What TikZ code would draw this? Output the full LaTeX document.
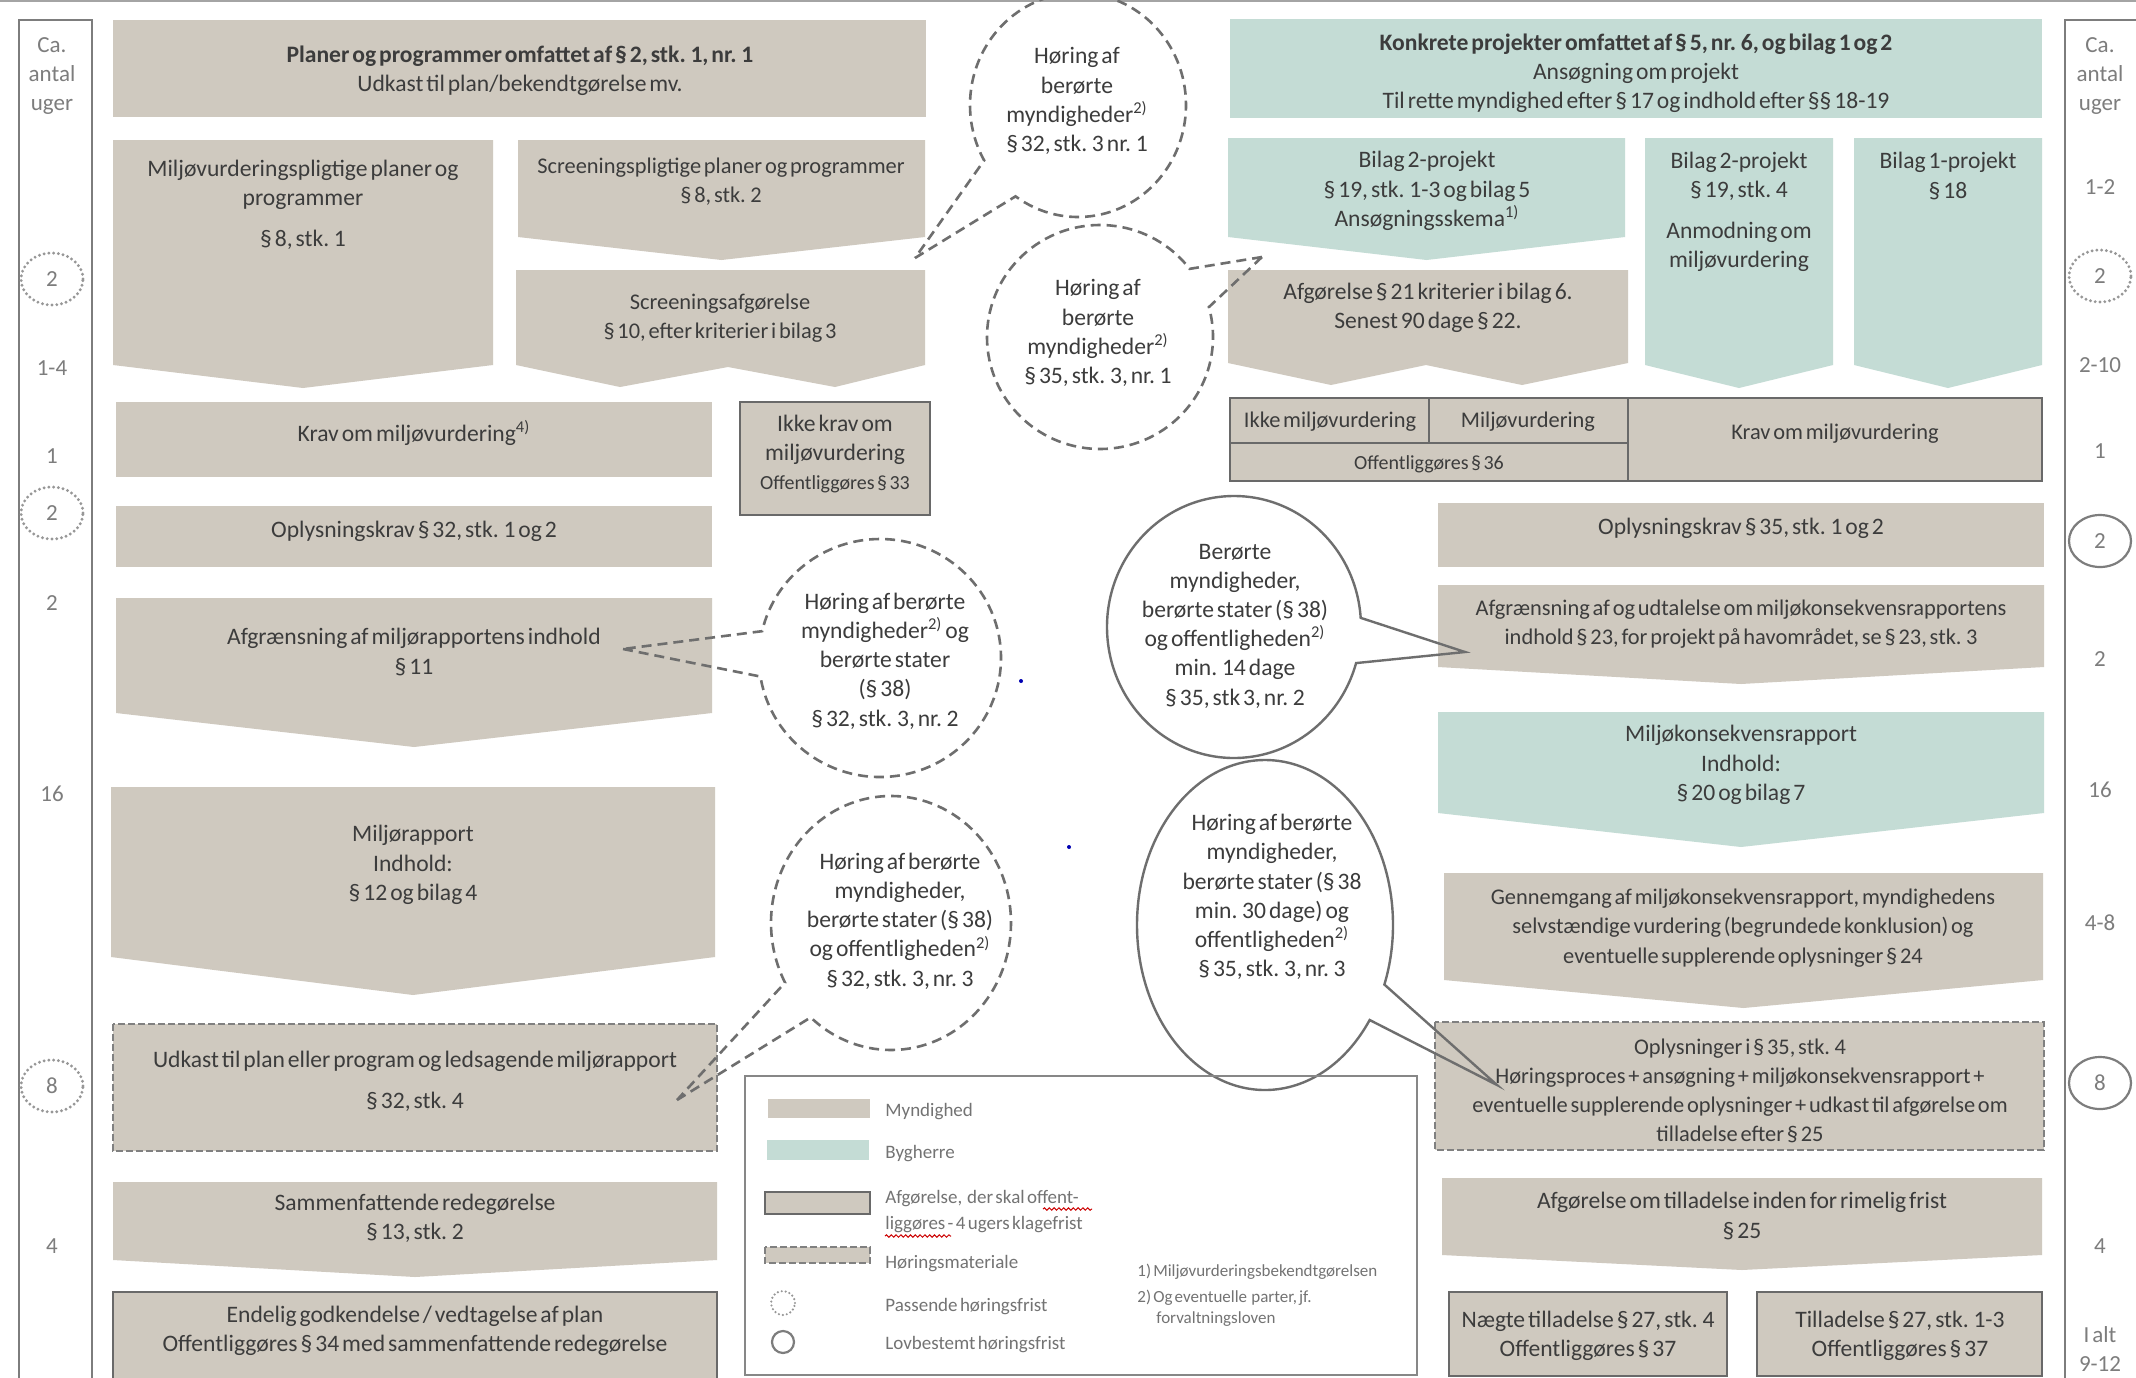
\documentclass[tikz,border=0pt]{standalone}
\usepackage{fontspec}
\setmainfont{Carlito}[WordSpace=0.55]
\usetikzlibrary{shapes.callouts,decorations.pathmorphing}
\definecolor{tan}{RGB}{207,201,191}
\definecolor{byg}{RGB}{196,220,213}
\definecolor{txt}{RGB}{60,60,60}
\definecolor{bord}{RGB}{105,105,105}
\definecolor{bub}{RGB}{110,110,110}
\definecolor{num}{RGB}{125,125,125}
\definecolor{leg}{RGB}{115,115,115}
\newcommand\chev[6]{\fill[#1] (#2,#4) -- (#3,#4) -- (#3,#5) -- ({(#2+#3)/2},#6) -- (#2,#5) -- cycle;}
\tikzset{
 every node/.style={text=txt, inner sep=0pt, align=center},
 mt/.style={font=\fontsize{11.8}{14.6}\selectfont},
 mts/.style={font=\fontsize{11.2}{14.6}\selectfont},
 bt/.style={font=\fontsize{11.8}{14.6}\selectfont},
 st/.style={font=\fontsize{10}{12}\selectfont},
 nt/.style={font=\fontsize{11.5}{14.5}\selectfont, text=num},
 lt/.style={font=\fontsize{9.5}{13}\selectfont, text=leg, anchor=west, align=left},
 ft/.style={font=\fontsize{8.5}{10}\selectfont, text=leg, anchor=west, align=left},
 decbox/.style={draw=bord, line width=1.4pt, fill=tan},
 hbox/.style={draw=bord!85, line width=1pt, dash pattern=on 3.5pt off 1.5pt, fill=tan},
 dbub/.style={ellipse callout, draw=bub, line width=1.3pt, dash pattern=on 5pt off 3pt, inner sep=0pt},
 sbub/.style={ellipse callout, draw=bub, line width=1.2pt, inner sep=0pt},
 pdots/.style={draw=num!80, line width=1.6pt, dash pattern=on 0pt off 2.4pt, line cap=round},
 lcirc/.style={draw=num, line width=1.1pt},
 colframe/.style={draw=num, line width=1.1pt},
}
\begin{document}
\begin{tikzpicture}[x=0.5pt,y=-0.5pt]
\useasboundingbox (0,0) rectangle (2136,1377);
\fill[white] (0,0) rectangle (2136,1377);
\draw[num!70, line width=1pt] (0,1) -- (2136,1);

% ---------- week columns ----------
\draw[colframe] (19,20) rectangle (92,1400);
\draw[colframe] (2065,20) rectangle (2170,1400);
\node[nt] (lh) at (52,76) {Ca.\\antal\\uger};
\node[nt] (l1) at (52,279) {2};
\draw[pdots] (l1.center) ellipse [x radius=15.5pt, y radius=13pt];
\node[nt] (l2) at (52,368) {1-4};
\node[nt] (l3) at (52,456) {1};
\node[nt] (l4) at (52,513) {2};
\draw[pdots] (l4.center) ellipse [x radius=15.5pt, y radius=13pt];
\node[nt] (l5) at (52,603) {2};
\node[nt] (l6) at (52,794) {16};
\node[nt] (l7) at (52,1086) {8};
\draw[pdots] (l7.center) ellipse [x radius=15.5pt, y radius=13pt];
\node[nt] (l8) at (52,1246) {4};

\node[nt] (rh) at (2100,76) {Ca.\\antal\\uger};
\node[nt] (r1) at (2100,187) {1-2};
\node[nt] (r2) at (2100,276) {2};
\draw[pdots] (r2.center) ellipse [x radius=15.5pt, y radius=13pt];
\node[nt] (r3) at (2100,365) {2-10};
\node[nt] (r4) at (2100,451) {1};
\node[nt] (r5) at (2100,541) {2};
\draw[lcirc] (r5.center) ellipse [x radius=15.5pt, y radius=13pt];
\node[nt] (r6) at (2100,659) {2};
\node[nt] (r7) at (2100,790) {16};
\node[nt] (r8) at (2100,923) {4-8};
\node[nt] (r9) at (2100,1083) {8};
\draw[lcirc] (r9.center) ellipse [x radius=15.5pt, y radius=13pt];
\node[nt] (r10) at (2100,1246) {4};
\node[nt] (r11) at (2100,1349) {I alt\\9-12};

% ---------- left flow ----------
\fill[tan] (113,20) rectangle (926,117);
\node[mt] (plan) at (520,71) {\textbf{Planer og programmer omfattet af § 2, stk. 1, nr. 1}\\Udkast til plan/bekendtgørelse mv.};
\chev{tan}{113}{493}{140}{365}{388}
\node[mt] (mvp) at (303,205) {Miljøvurderingspligtige planer og\\programmer\\[6pt]§ 8, stk. 1};
\chev{tan}{518}{925}{140}{237}{260}
\node[mts] (spp) at (721,182) {Screeningspligtige planer og programmer\\§ 8, stk. 2};
\fill[tan] (516,270) -- (925,270) -- (925,365) -- (835,387) -- (728,367) -- (620,387) -- (516,365) -- cycle;
\node[mts] (saf) at (720,318) {Screeningsafgørelse\\§ 10, efter kriterier i bilag 3};
\fill[tan] (116,402) rectangle (712,477);
\node[mt] (krav) at (414,433) {Krav om miljøvurdering\textsuperscript{4)}};
\draw[decbox] (740,402) rectangle (930,515);
\node[mt] (ikke) at (835,440) {Ikke krav om\\miljøvurdering};
\node[st] (ikke2) at (835,484) {Offentliggøres § 33};
\fill[tan] (116,506) rectangle (712,567);
\node[mt] (opl) at (414,531) {Oplysningskrav § 32, stk. 1 og 2};
\chev{tan}{116}{712}{598}{713}{747}
\node[mt] (afgr) at (414,652) {Afgrænsning af miljørapportens indhold\\§ 11};
\chev{tan}{111}{715}{787}{957}{995}
\node[mt] (mrap) at (413,865) {Miljørapport\\Indhold:\\§ 12 og bilag 4};
\draw[hbox] (113,1024) rectangle (717,1151);
\node[mt] (udk) at (415,1081) {Udkast til plan eller program og ledsagende miljørapport\\[6pt]§ 32, stk. 4};
\chev{tan}{113}{717}{1182}{1260}{1277}
\node[mt] (samm) at (415,1218) {Sammenfattende redegørelse\\§ 13, stk. 2};
\draw[decbox] (113,1292) rectangle (717,1400);
\node[mt] (endg) at (415,1331) {Endelig godkendelse / vedtagelse af plan\\Offentliggøres § 34 med sammenfattende redegørelse};

% ---------- right flow ----------
\fill[byg] (1230,19) rectangle (2042,118);
\node[mt] (konk) at (1636,73) {\textbf{Konkrete projekter omfattet af § 5, nr. 6, og bilag 1 og 2}\\Ansøgning om projekt\\Til rette myndighed efter § 17 og indhold efter §§ 18-19};
\chev{byg}{1228}{1625}{138}{237}{260}
\node[mt] (b2a) at (1427,191) {Bilag 2-projekt\\§ 19, stk. 1-3 og bilag 5\\Ansøgningsskema\textsuperscript{1)}};
\fill[tan] (1228,270) -- (1628,270) -- (1628,363) -- (1522,385) -- (1426,365) -- (1331,385) -- (1228,363) -- cycle;
\node[mt] (af21) at (1428,308) {Afgørelse § 21 kriterier i bilag 6.\\Senest 90 dage § 22.};
\chev{byg}{1645}{1833}{138}{365}{388}
\node[mt] (b2b) at (1739,212) {Bilag 2-projekt\\§ 19, stk. 4\\[6pt]Anmodning om\\miljøvurdering};
\chev{byg}{1854}{2042}{138}{365}{388}
\node[mt] (b1) at (1948,176) {Bilag 1-projekt\\§ 18};
\fill[tan] (1230,398) rectangle (2042,481);
\draw[bord, line width=1.3pt] (1230,398) rectangle (2042,481);
\draw[bord, line width=1.3pt] (1628,398) -- (1628,481);
\draw[bord, line width=1.3pt] (1230,443) -- (1628,443);
\draw[bord, line width=1.3pt] (1429,398) -- (1429,443);
\node[mts] (ikmv) at (1330,422) {Ikke miljøvurdering};
\node[mts] (mv) at (1528,422) {Miljøvurdering};
\node[st] (off36) at (1429,464) {Offentliggøres § 36};
\node[mts] (kravr) at (1835,434) {Krav om miljøvurdering};
\fill[tan] (1438,503) rectangle (2044,567);
\node[mt] (oplr) at (1741,528) {Oplysningskrav § 35, stk. 1 og 2};
\chev{tan}{1438}{2044}{585}{667}{684}
\node[mts] (afgrr) at (1741,624) {Afgrænsning af og udtalelse om miljøkonsekvensrapportens\\indhold § 23, for projekt på havområdet, se § 23, stk. 3};
\chev{byg}{1438}{2044}{712}{813}{847}
\node[mt] (mkr) at (1741,765) {Miljøkonsekvensrapport\\Indhold:\\§ 20 og bilag 7};
\chev{tan}{1444}{2043}{873}{980}{1008}
\node[mts] (genn) at (1743,928) {Gennemgang af miljøkonsekvensrapport, myndighedens\\selvstændige vurdering (begrundede konklusion) og\\eventuelle supplerende oplysninger § 24};
\draw[hbox] (1435,1022) rectangle (2044,1150);
\node[mts] (opl4) at (1740,1091) {Oplysninger i § 35, stk. 4\\Høringsproces + ansøgning + miljøkonsekvensrapport +\\eventuelle supplerende oplysninger + udkast til afgørelse om\\tilladelse efter § 25};
\chev{tan}{1442}{2042}{1178}{1255}{1270}
\node[mt] (afgt) at (1742,1216) {Afgørelse om tilladelse inden for rimelig frist\\§ 25};
\draw[decbox] (1449,1292) rectangle (1727,1376);
\node[mt] (naeg) at (1588,1336) {Nægte tilladelse § 27, stk. 4\\Offentliggøres § 37};
\draw[decbox] (1757,1292) rectangle (2042,1376);
\node[mt] (till) at (1900,1336) {Tilladelse § 27, stk. 1-3\\Offentliggøres § 37};

% ---------- speech bubbles ----------
\coordinate (p1) at (915,258);
\coordinate (p2) at (1262,257);
\coordinate (p3) at (623,649);
\coordinate (p4) at (677,1100);
\coordinate (p5) at (1465,652);
\coordinate (p6) at (1497,1085);
\node[dbub, minimum width=108pt, minimum height=112pt, callout absolute pointer={(p1)}, callout pointer arc=25] (bub1) at (1078,105) {};
\node[bt] (bub1t) at (1077,101) {Høring af\\berørte\\myndigheder\textsuperscript{2)}\\§ 32, stk. 3 nr. 1};
\node[dbub, minimum width=113pt, minimum height=112pt, callout absolute pointer={(p2)}, callout pointer arc=22] (bub2) at (1100,337) {};
\node[bt] (bub2t) at (1098,333) {Høring af\\berørte\\myndigheder\textsuperscript{2)}\\§ 35, stk. 3, nr. 1};
\node[dbub, minimum width=121pt, minimum height=119pt, callout absolute pointer={(p3)}, callout pointer arc=22] (bub3) at (880,658) {};
\node[bt] (bub3t) at (885,661) {Høring af berørte\\myndigheder\textsuperscript{2)} og\\berørte stater\\(§ 38)\\§ 32, stk. 3, nr. 2};
\node[dbub, minimum width=120pt, minimum height=127pt, callout absolute pointer={(p4)}, callout pointer arc=20] (bub4) at (891,923) {};
\node[bt] (bub4t) at (900,921) {Høring af berørte\\myndigheder,\\berørte stater (§ 38)\\og offentligheden\textsuperscript{2)}\\§ 32, stk. 3, nr. 3};
\node[sbub, minimum width=127pt, minimum height=131pt, callout absolute pointer={(p5)}, callout pointer arc=20] (bub5) at (1234,627) {};
\node[bt] (bub5t) at (1235,626) {Berørte\\myndigheder,\\berørte stater (§ 38)\\og offentligheden\textsuperscript{2)}\\min. 14 dage\\§ 35, stk 3, nr. 2};
\node[sbub, minimum width=128pt, minimum height=165pt, callout absolute pointer={(p6)}, callout pointer arc=14] (bub6) at (1265,925) {};
\node[bt] (bub6t) at (1272,897) {Høring af berørte\\myndigheder,\\berørte stater (§ 38\\min. 30 dage) og\\offentligheden\textsuperscript{2)}\\§ 35, stk. 3, nr. 3};

\fill[blue!70!black] (1021,681) circle (1pt);
\fill[blue!70!black] (1069,847) circle (1pt);

% ---------- legend ----------
\draw[bord!80, line width=0.8pt] (745,1076) rectangle (1417,1375);
\fill[tan] (768,1099) rectangle (870,1118);
\node[lt] (lg1) at (885,1112) {Myndighed};
\fill[byg] (767,1140) rectangle (869,1160);
\node[lt] (lg2) at (885,1154) {Bygherre};
\draw[decbox] (765,1192) rectangle (870,1214);
\node[lt] (lg3) at (885,1212) {Afgørelse,\ \ der skal offent-\\liggøres - 4 ugers klagefrist};
\draw[red!80!black, line width=0.5pt, decorate, decoration={snake, amplitude=0.6pt, segment length=2.4pt}] (1043,1209) -- (1092,1209);
\draw[red!80!black, line width=0.5pt, decorate, decoration={snake, amplitude=0.6pt, segment length=2.4pt}] (885,1236) -- (951,1236);
\draw[hbox] (765,1247) rectangle (870,1263);
\node[lt] (lg4) at (885,1264) {Høringsmateriale};
\coordinate (lc1) at (783,1303);
\draw[pdots, line width=1.2pt, dash pattern=on 0pt off 2pt] (lc1) circle (6pt);
\node[lt] (lg5) at (885,1307) {Passende høringsfrist};
\coordinate (lc2) at (783,1342);
\draw[lcirc] (lc2) circle (5.5pt);
\node[lt] (lg6) at (885,1345) {Lovbestemt høringsfrist};
\node[ft] (fn1) at (1137,1272) {1) Miljøvurderingsbekendtgørelsen};
\node[ft] (fn2) at (1137,1298) {2) Og eventuelle\ \ parter, jf.};
\node[ft] (fn3) at (1156,1319) {forvaltningsloven};
\end{tikzpicture}
\end{document}
